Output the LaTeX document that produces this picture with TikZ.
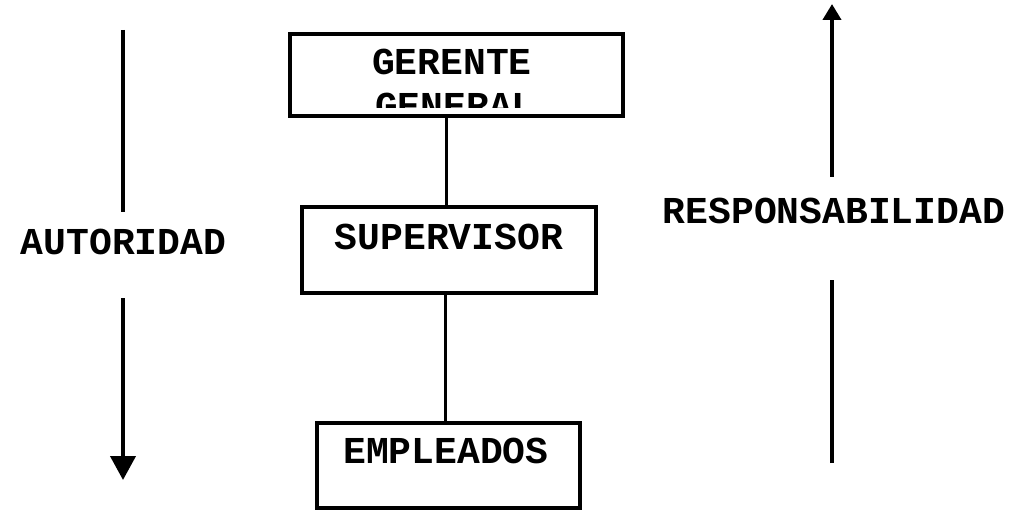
\documentclass[tikz,border=0pt]{standalone}
\usepackage{fontspec}
\setmonofont{Liberation Mono}
\usetikzlibrary{arrows.meta, positioning}

\begin{document}
\begin{tikzpicture}[x=1pt, y=-1pt,
                    box/.style={draw, line width=4pt, inner sep=0pt},
                    lbl/.style={font=\ttfamily\bfseries\fontsize{38}{40}\selectfont, inner sep=0pt},
                    link/.style={line width=3pt}]
                        \useasboundingbox (0,0) rectangle (1012,513);

                        % cajas
                        \node[box, minimum width=333pt, minimum height=82pt] (ger) at (456.5, 75) {};
                        \node[box, minimum width=294pt, minimum height=86pt] (sup) at (449, 250) {};
                        \node[box, minimum width=263pt, minimum height=85pt] (emp) at (448.5, 465.5) {};

                        \node[lbl] (tger) at (452, 62) {GERENTE};
                        \begin{scope}
                            \clip (290, 80) rectangle (620, 108);
                            \node[lbl] (tgen) at (455, 105.5) {GENERAL};
                        \end{scope}
                        \node[lbl] (tsup) at (449, 237) {SUPERVISOR};
                        \node[lbl] (temp) at (446, 451) {EMPLEADOS};

                        \draw[link] (sup.north -| 446, 0) -- (ger.south -| 446, 0);
                        \draw[link] (emp.north -| 445, 0) -- (sup.south -| 445, 0);

                        % flechas
                        \node[lbl] (aut) at (123.5, 242) {AUTORIDAD};
                        \coordinate (aut1) at (123, 30);
                        \coordinate (aut2) at (123, 212);
                        \coordinate (aut3) at (123, 298);
                        \coordinate (aut4) at (123, 480);
                        \draw[line width=4pt] (aut1) -- (aut2);
                        \draw[line width=4pt, -{Triangle[length=24pt, width=25pt]}] (aut3) -- (aut4);

                        \node[lbl] (res) at (834, 211) {RESPONSABILIDAD};
                        \coordinate (res1) at (832, 463);
                        \coordinate (res2) at (832, 280);
                        \coordinate (res3) at (832, 177);
                        \coordinate (res4) at (832, 4);
                        \draw[line width=4pt] (res1) -- (res2);
                        \draw[line width=4pt, -{Triangle[length=16pt, width=18pt]}] (res3) -- (res4);
                    \end{tikzpicture}
\end{document}
